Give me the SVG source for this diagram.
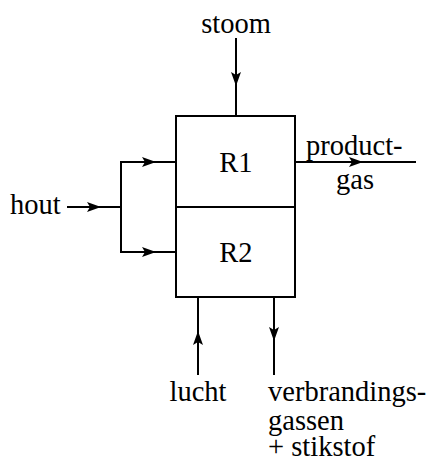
<svg xmlns="http://www.w3.org/2000/svg" width="432" height="458" viewBox="0 0 432 458">
<style>
.ln{stroke:#000;stroke-width:2;fill:none}
.ah{fill:#000;stroke:none}
text{font-family:"Liberation Serif","Times New Roman",serif;font-size:28.5px;fill:#000}
</style>
<rect width="432" height="458" fill="#fff"/>
<g id="reactor">
<rect x="176" y="116" width="119" height="181" class="ln"/>
<line x1="176" y1="207" x2="295" y2="207" class="ln"/>
</g>
<g id="R1"><text x="236" y="172" text-anchor="middle">R1</text></g>
<g id="R2"><text x="236" y="262" text-anchor="middle">R2</text></g>
<g id="stoom"><text x="236" y="33" text-anchor="middle">stoom</text></g>
<g id="hout"><text x="10" y="214">hout</text></g>
<g id="productgas"><text x="306" y="155">product-</text><text x="336" y="189">gas</text></g>
<g id="lucht"><text x="198" y="401" text-anchor="middle">lucht</text></g>
<g id="verbrandingsgassen"><text x="268" y="401">verbrandings-</text><text x="268" y="430">gassen</text><text x="268" y="456">+ stikstof</text></g>
<g id="connectors">
<line x1="236" y1="38" x2="236" y2="116" class="ln"/>
<path class="ah" d="M236,86 L231,72 L236,75 L241,72 Z"/>
<line x1="295" y1="162" x2="416" y2="162" class="ln"/>
<path class="ah" d="M363,162 L349,157 L352,162 L349,167 Z"/>
<line x1="67" y1="207" x2="121" y2="207" class="ln"/>
<path class="ah" d="M101,207 L87,202 L90,207 L87,212 Z"/>
<polyline points="176,162 121,162 121,252 176,252" class="ln"/>
<path class="ah" d="M156,162 L142,157 L145,162 L142,167 Z"/>
<path class="ah" d="M156,252 L142,247 L145,252 L142,257 Z"/>
<line x1="198" y1="297" x2="198" y2="375" class="ln"/>
<path class="ah" d="M198,331 L193,345 L198,342 L203,345 Z"/>
<line x1="274" y1="297" x2="274" y2="375" class="ln"/>
<path class="ah" d="M274,341 L269,327 L274,330 L279,327 Z"/>
</g>
</svg>
